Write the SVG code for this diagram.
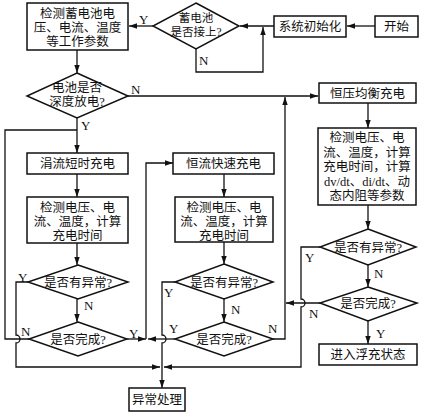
<svg xmlns="http://www.w3.org/2000/svg" width="426" height="417" viewBox="0 0 426 417">
<style>
.b{fill:#fff;stroke:#111;stroke-width:1.5}
.t{font-family:"Liberation Serif","Noto Sans CJK SC",serif;font-size:12.5px;fill:#111;text-anchor:middle}
.s{font-size:11.5px}
.l{font-family:"Liberation Serif",serif;font-size:13px;fill:#111}
.c{fill:none;stroke:#111;stroke-width:1.3}
</style>
<defs>
<marker id="a" markerUnits="userSpaceOnUse" markerWidth="9" markerHeight="7" refX="8" refY="3.5" orient="auto">
<path d="M0,0.8 L8,3.5 L0,6.2 Z" fill="#111"/>
</marker>
</defs>
<rect width="426" height="417" fill="#fff"/>
<g id="connectors">
<path class="c" d="M375,26 H347" marker-end="url(#a)"/>
<path class="c" d="M274,26 H240" marker-end="url(#a)"/>
<path class="c" d="M196,49 V72 H263 V27" marker-end="url(#a)"/>
<path class="c" d="M153,26 H129" marker-end="url(#a)"/>
<path class="c" d="M77,50 V73" marker-end="url(#a)"/>
<path class="c" d="M128,96 H318" marker-end="url(#a)"/>
<path class="c" d="M77,118 V153" marker-end="url(#a)"/>
<path class="c" d="M77,174 V197" marker-end="url(#a)"/>
<path class="c" d="M77,243 V265" marker-end="url(#a)"/>
<path class="c" d="M77,299 V322" marker-end="url(#a)"/>
<path class="c" d="M28,282 H16 V335 a4,4 0 0 1 0,8 V367 H160" marker-end="url(#a)"/>
<path class="c" d="M29,339 H5 V130 H77"/>
<path class="c" d="M127,339 H146" marker-end="url(#a)"/>
<path class="c" d="M146,339 V163 H173" marker-end="url(#a)"/>
<path class="c" d="M224,174 V197" marker-end="url(#a)"/>
<path class="c" d="M224,242 V264" marker-end="url(#a)"/>
<path class="c" d="M224,299 V322" marker-end="url(#a)"/>
<path class="c" d="M175,282 H162 V335 a4,4 0 0 1 0,8 V388" marker-end="url(#a)"/>
<path class="c" d="M175,339 H148" marker-end="url(#a)"/>
<path class="c" d="M273,339 H285 V97" marker-end="url(#a)"/>
<path class="c" d="M368,103 V128" marker-end="url(#a)"/>
<path class="c" d="M368,205 V229" marker-end="url(#a)"/>
<path class="c" d="M368,265 V287" marker-end="url(#a)"/>
<path class="c" d="M368,321 V344" marker-end="url(#a)"/>
<path class="c" d="M320,247 H301 V299 a4,4 0 0 1 0,8 V367 H164" marker-end="url(#a)"/>
<path class="c" d="M320,303 H286" marker-end="url(#a)"/>
</g>
<g id="labels">
<text class="l" x="139" y="24">Y</text>
<text class="l" x="199" y="65">N</text>
<text class="l" x="131" y="94">N</text>
<text class="l" x="81" y="130">Y</text>
<text class="l" x="18" y="282">Y</text>
<text class="l" x="84" y="310">N</text>
<text class="l" x="21" y="336">N</text>
<text class="l" x="129" y="338">Y</text>
<text class="l" x="164" y="297">Y</text>
<text class="l" x="231" y="314">N</text>
<text class="l" x="169" y="333">Y</text>
<text class="l" x="268" y="333">N</text>
<text class="l" x="305" y="262">Y</text>
<text class="l" x="374" y="278">N</text>
<text class="l" x="309" y="318">N</text>
<text class="l" x="376" y="338">Y</text>
</g>
<g id="n-detect-battery">
<rect class="b" x="27" y="3" width="101" height="47"/>
<text class="t" x="77.5" y="18">检测蓄电池电</text>
<text class="t" x="77.5" y="32">压、电流、温度</text>
<text class="t" x="77.5" y="46">等工作参数</text>
</g>
<g id="n-connected">
<polygon class="b" points="196,3 239,26 196,49 153,26"/>
<text class="t s" x="196" y="22">蓄电池</text>
<text class="t s" x="196" y="36">是否接上?</text>
</g>
<g id="n-init">
<rect class="b" x="274" y="16" width="72" height="21"/>
<text class="t" x="310" y="30.5">系统初始化</text>
</g>
<g id="n-start">
<rect class="b" x="375" y="16" width="43" height="21"/>
<text class="t" x="396.5" y="30.5">开始</text>
</g>
<g id="n-deep">
<polygon class="b" points="77,73 128,96 77,118 27,96"/>
<text class="t" x="77" y="92">电池是否</text>
<text class="t" x="77" y="106">深度放电?</text>
</g>
<g id="n-cv">
<rect class="b" x="319" y="83" width="97" height="20"/>
<text class="t" x="367.5" y="97.5">恒压均衡充电</text>
</g>
<g id="n-trickle">
<rect class="b" x="27" y="153" width="101" height="21"/>
<text class="t" x="77.5" y="168">涓流短时充电</text>
</g>
<g id="n-detect-left">
<rect class="b" x="27" y="197" width="101" height="46"/>
<text class="t" x="77.5" y="212">检测电压、电</text>
<text class="t" x="77.5" y="226">流、温度，计算</text>
<text class="t" x="77.5" y="240">充电时间</text>
</g>
<g id="n-abn-left">
<polygon class="b" points="78,265 128,282 78,299 28,282"/>
<text class="t" x="78" y="286.5">是否有异常?</text>
</g>
<g id="n-done-left">
<polygon class="b" points="78,322 127,339 78,356 29,339"/>
<text class="t" x="78" y="343.5">是否完成?</text>
</g>
<g id="n-cc">
<rect class="b" x="173" y="153" width="101" height="21"/>
<text class="t" x="223.5" y="168">恒流快速充电</text>
</g>
<g id="n-detect-mid">
<rect class="b" x="175" y="197" width="98" height="45"/>
<text class="t" x="224" y="211.5">检测电压、电</text>
<text class="t" x="224" y="225.5">流、温度，计算</text>
<text class="t" x="224" y="239.5">充电时间</text>
</g>
<g id="n-abn-mid">
<polygon class="b" points="224,264 273,282 224,299 175,282"/>
<text class="t" x="224" y="286.5">是否有异常?</text>
</g>
<g id="n-done-mid">
<polygon class="b" points="224,322 273,339 224,356 175,339"/>
<text class="t" x="224" y="343.5">是否完成?</text>
</g>
<g id="n-detect-right">
<rect class="b" x="318" y="128" width="98" height="77"/>
<text class="t" x="367" y="142">检测电压、电</text>
<text class="t" x="367" y="156.5">流、温度，计算</text>
<text class="t" x="367" y="171">充电时间，计算</text>
<text class="t" x="367" y="185.5">dv/dt、di/dt、动</text>
<text class="t" x="367" y="200">态内阻等参数</text>
</g>
<g id="n-abn-right">
<polygon class="b" points="368,229 416,247 368,265 320,247"/>
<text class="t" x="368" y="251.5">是否有异常?</text>
</g>
<g id="n-done-right">
<polygon class="b" points="368,287 417,303 368,321 320,303"/>
<text class="t" x="368" y="307.5">是否完成?</text>
</g>
<g id="n-float">
<rect class="b" x="319" y="344" width="98" height="21"/>
<text class="t" x="368" y="359">进入浮充状态</text>
</g>
<g id="n-error">
<rect class="b" x="129" y="388" width="56" height="23"/>
<text class="t" x="157" y="404">异常处理</text>
</g>
</svg>
